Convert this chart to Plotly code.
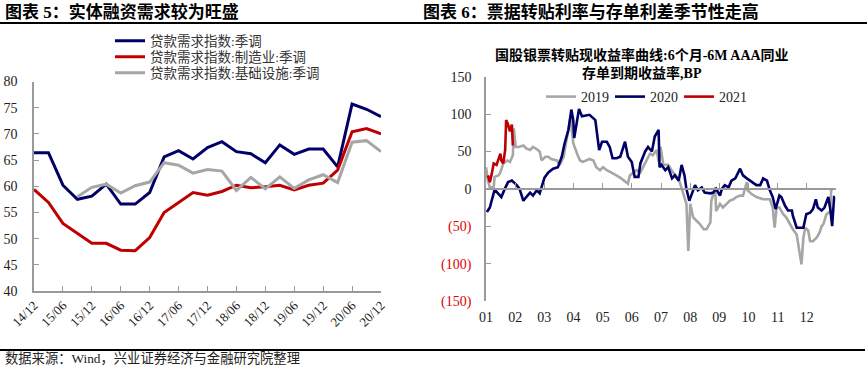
import plotly.graph_objects as go

# ---------------- Left chart data (quarterly, 14/12 - 20/12) ----------------
quarters = ["14/12", "15/03", "15/06", "15/09", "15/12", "16/03", "16/06", "16/09", "16/12",
            "17/03", "17/06", "17/09", "17/12", "18/03", "18/06", "18/09", "18/12",
            "19/03", "19/06", "19/09", "19/12", "20/03", "20/06", "20/09", "20/12"]
loan_total = [66.4, 66.4, 60.2, 57.5, 58.1, 60.4, 56.6, 56.6, 58.8, 65.6, 66.8, 65.2, 67.4,
              68.5, 66.6, 66.2, 64.5, 67.9, 66.1, 67.1, 67.1, 63.7, 75.7, 74.7, 73.3]
loan_manu = [59.4, 56.9, 52.9, 51.0, 49.1, 49.1, 47.8, 47.7, 50.2, 55.0, 56.9, 58.8, 58.3,
             59.0, 60.2, 59.7, 59.9, 60.2, 59.3, 60.2, 60.6, 63.1, 70.4, 71.0, 70.0]
loan_infra = [None, None, None, 58.0, 59.8, 60.4, 58.7, 60.1, 60.8, 64.5, 64.0, 62.5, 63.2,
              62.9, 59.2, 61.7, 59.5, 61.8, 59.6, 61.2, 62.2, 60.7, 68.4, 68.7, 66.6]
left_names = ["贷款需求指数:季调", "贷款需求指数:制造业:季调", "贷款需求指数:基础设施:季调"]
left_ticks = quarters[::2]

# ---------------- Right chart data (day of year, BP) ----------------
doy_2019 = [0, 2, 4, 8, 9, 13, 15, 18, 22, 25, 28, 29, 31, 34, 39, 42, 46, 49, 53, 56, 58, 62, 65,
            68, 74, 77, 81, 84, 88, 89, 91, 95, 98, 101, 105, 108, 112, 115, 119, 122, 126, 131,
            136, 141, 147, 148, 150, 154, 157, 161, 164, 167, 171, 174, 178, 180, 182, 185, 190,
            195, 199, 202, 206, 209, 211, 213, 216, 220, 223, 227, 230, 234, 235, 239, 240, 244,
            247, 251, 254, 258, 261, 265, 268, 272, 273, 277, 282, 289, 296, 299, 301, 303, 306,
            310, 313, 317, 320, 324, 327, 329, 331, 333, 336, 338, 341, 345, 348, 350, 352, 355,
            359, 360, 362]
val_2019 = [29, 11, 2, 2, 16, 18, 22, 34, 38, 36, 45, 81, 56, 56, 58, 54, 52, 56, 53, 50, 38, 43, 43,
            40, 38, 32, 43, 65, 95, 85, 61, 47, 38, 36, 38, 40, 38, 29, 25, 29, 25, 22,
            18, 14, 9, 7, 18, 22, 25, 22, 29, 38, 47, 45, 52, 36, 56, 32, 32,
            22, 16, 9, -7, -20, -83, -20, -38, -43, -47, -54, -54, -45, -16, 2, -30, -20,
            -25, -20, -16, -14, -11, -9, -9, 9, -2, -7, -11, -14, -14, -25, -52, -25, -25,
            -34, -38, -47, -54, -61, -88, -101, -65, -52, -56, -70, -70, -65, -58, -50, -47, -34,
            -30, 0, -2]
doy_2020 = [1, 4, 9, 13, 16, 20, 23, 27, 32, 35, 39, 42, 46, 49, 53, 56, 61, 65, 70, 75, 79, 82, 86,
            89, 91, 92, 94, 97, 100, 103, 108, 114, 115, 117, 118, 121, 126, 129, 132, 136, 140,
            145, 148, 152, 155, 159, 161, 166, 169, 173, 176, 180, 181, 183, 187, 190, 194, 197,
            201, 204, 207, 209, 212, 214, 218, 221, 225, 228, 234, 237, 240, 244, 246, 249, 253,
            256, 260, 265, 268, 272, 277, 282, 286, 289, 293, 296, 299, 302, 306, 308, 312, 315,
            319, 320, 324, 327, 331, 334, 338, 341, 344, 346, 350, 353, 357, 359, 361, 363, 364]
val_2020 = [-31, -25, -1, -6, -11, 1, 9, 11, 5, 0, -16, -11, -5, -9, -2, -6, 15, 22, 27, 29, 43, 61, 79,
            106, 92, 68, 84, 107, 97, 98, 99, 92, 81, 65, 52, 63, 63, 56, 41, 41, 43,
            63, 43, 36, 16, 16, 34, 50, 56, 50, 70, 79, 29, 32, 25, 29, 14, 18,
            11, 32, 18, 0, -16, -9, 5, -2, 2, -5, -6, -5, 0, -9, 0, 5, 2,
            11, 14, 27, 18, 14, 9, 5, 5, 14, 11, -2, -11, -27, -9, -11, -23, -29,
            -29, -36, -52, -52, -52, -34, -32, -27, -14, -25, -29, -25, -11, -27, -50, -11, -11]
doy_2021 = [2, 4, 6, 8, 11, 13, 15, 16, 18, 20, 21, 23, 25, 27, 28]
val_2021 = [18, 9, 20, 34, 32, 40, 47, 38, 34, 52, 92, 86, 77, 86, 58]
month_labels = ["01", "02", "03", "04", "05", "06", "07", "08", "09", "10", "11", "12"]
right_yvals = [-150, -100, -50, 0, 50, 100, 150]
right_ylabels = ["(150)", "(100)", "(50)", "0", "50", "100", "150"]

NAVY = "#000066"
RED = "#c00000"
GRAY = "#a6a6a6"
AXIS = "#9a9a9a"
SERIF = "Liberation Serif, Noto Sans CJK SC"
CJK = "Noto Sans CJK SC"

W, H = 867, 366


def px_x(p):
    return p / W


def px_y(p):
    return 1 - p / H


def mpos(doy):
    return [1 + d / (365 / 12) for d in doy]


fig = go.Figure()

# left chart traces (one legend box per entry for exact row spacing)
left_legends = ["legend", "legend3", "legend4"]
for vals, name, col, lg in [(loan_total, left_names[0], NAVY, left_legends[0]),
                            (loan_manu, left_names[1], RED, left_legends[1]),
                            (loan_infra, left_names[2], GRAY, left_legends[2])]:
    fig.add_trace(go.Scatter(x=list(range(len(quarters))), y=vals, name=name, mode="lines",
                             line=dict(color=col, width=3), xaxis="x", yaxis="y",
                             legend=lg, connectgaps=False))

# right chart traces
for doy, vals, name, col in [(doy_2019, val_2019, "2019", GRAY),
                             (doy_2020, val_2020, "2020", NAVY),
                             (doy_2021, val_2021, "2021", RED)]:
    fig.add_trace(go.Scatter(x=mpos(doy), y=vals, name=name, mode="lines",
                             line=dict(color=col, width=2.6), xaxis="x2", yaxis="y2",
                             legend="legend2"))

# dummy trace for zero-line axis
fig.add_trace(go.Scatter(x=[1], y=[None], xaxis="x3", yaxis="y2", showlegend=False,
                         hoverinfo="skip", mode="lines"))

r_dom = [px_y(301), px_y(76.7)]
zero_pos = r_dom[0] + (0 - (-150)) / 300 * (r_dom[1] - r_dom[0])

colored_labels = [("<span style='color:#e00000'>%s</span>" % t) if v < 0 else t
                  for v, t in zip(right_yvals, right_ylabels)]

left_leg_style = dict(x=px_x(110), xanchor="left", yanchor="top", bgcolor="rgba(0,0,0,0)",
                      font=dict(family=SERIF, size=13.5, color="#333"), itemwidth=30)

fig.update_layout(
    width=W, height=H, margin=dict(l=0, r=0, t=0, b=0, autoexpand=False),
    paper_bgcolor="white", plot_bgcolor="white",
    font=dict(family=SERIF, size=14, color="#222"),
    xaxis=dict(domain=[px_x(34), px_x(381)], range=[0, 24], tickvals=list(range(0, 25, 2)),
               ticktext=left_ticks, tickangle=-45, ticks="inside", ticklen=5, tickcolor=AXIS,
               showline=True, linecolor=AXIS, linewidth=1.5, showgrid=False, zeroline=False,
               anchor="y", tickfont=dict(family=SERIF, size=13, color="#222")),
    yaxis=dict(domain=[px_y(291), px_y(81.5)], range=[40, 80], dtick=5, ticks="inside",
               ticklen=5, tickcolor=AXIS, showline=True, linecolor=AXIS, linewidth=1.5,
               showgrid=False, zeroline=False, anchor="x", ticklabelstandoff=12,
               tickfont=dict(family=SERIF, size=14, color="#222")),
    xaxis2=dict(domain=[px_x(486), px_x(836)], range=[1, 13], tickvals=list(range(1, 13)),
                ticktext=month_labels, ticks="", showline=False, showgrid=False, zeroline=False,
                anchor="y2", ticklabelstandoff=6,
                tickfont=dict(family=SERIF, size=14, color="#222")),
    xaxis3=dict(overlaying="x2", range=[1, 13], anchor="free", position=zero_pos,
                tickvals=list(range(1, 14)), showticklabels=False, ticks="inside", ticklen=5,
                tickcolor=AXIS, showline=True, linecolor=AXIS, linewidth=1.5, showgrid=False,
                zeroline=False),
    yaxis2=dict(domain=r_dom, range=[-150, 150], tickvals=right_yvals, ticktext=colored_labels,
                ticks="inside", ticklen=5, tickcolor=AXIS, showline=True, linecolor=AXIS,
                linewidth=1.5, showgrid=False, zeroline=False, anchor="x2", ticklabelstandoff=10,
                tickfont=dict(family=SERIF, size=14, color="#222")),
    legend=dict(y=px_y(25.5), **left_leg_style),
    legend3=dict(y=px_y(41.5), **left_leg_style),
    legend4=dict(y=px_y(57.5), **left_leg_style),
    legend2=dict(orientation="h", x=px_x(541), y=px_y(81), xanchor="left", yanchor="top",
                 bgcolor="rgba(0,0,0,0)", font=dict(family=SERIF, size=14, color="#222"),
                 entrywidth=24, entrywidthmode="pixels", itemwidth=30),
    showlegend=True,
)

# header/footer rules
fig.add_shape(type="line", xref="paper", yref="paper", x0=0, x1=1, y0=px_y(23), y1=px_y(23),
              line=dict(color="black", width=2))
fig.add_shape(type="line", xref="paper", yref="paper", x0=0, x1=px_x(865), y0=px_y(350),
              y1=px_y(350), line=dict(color="black", width=2))

# titles
fig.add_annotation(text="<b>图表 5：实体融资需求较为旺盛</b>", xref="paper", yref="paper",
                   x=px_x(3), y=px_y(12), xanchor="left", yanchor="middle", showarrow=False,
                   font=dict(family=SERIF, size=17, color="black"))
fig.add_annotation(text="<b>图表 6：票据转贴利率与存单利差季节性走高</b>", xref="paper",
                   yref="paper", x=px_x(421), y=px_y(12), xanchor="left", yanchor="middle",
                   showarrow=False, font=dict(family=SERIF, size=17, color="black"))
fig.add_annotation(text="<b>国股银票转贴现收益率曲线:6个月-6M AAA同业<br>存单到期收益率,BP</b>",
                   xref="paper", yref="paper", x=px_x(642), y=px_y(64), xanchor="center",
                   yanchor="middle", showarrow=False,
                   font=dict(family=SERIF, size=14, color="black"))
fig.add_annotation(text="数据来源：Wind，兴业证券经济与金融研究院整理", xref="paper",
                   yref="paper", x=px_x(3), y=px_y(358), xanchor="left", yanchor="middle",
                   showarrow=False, font=dict(family=SERIF, size=13.3, color="#222"))

fig.write_html("out.html", config={"displayModeBar": False},
               post_script="document.body.style.margin='0';document.body.style.overflow='hidden';")
